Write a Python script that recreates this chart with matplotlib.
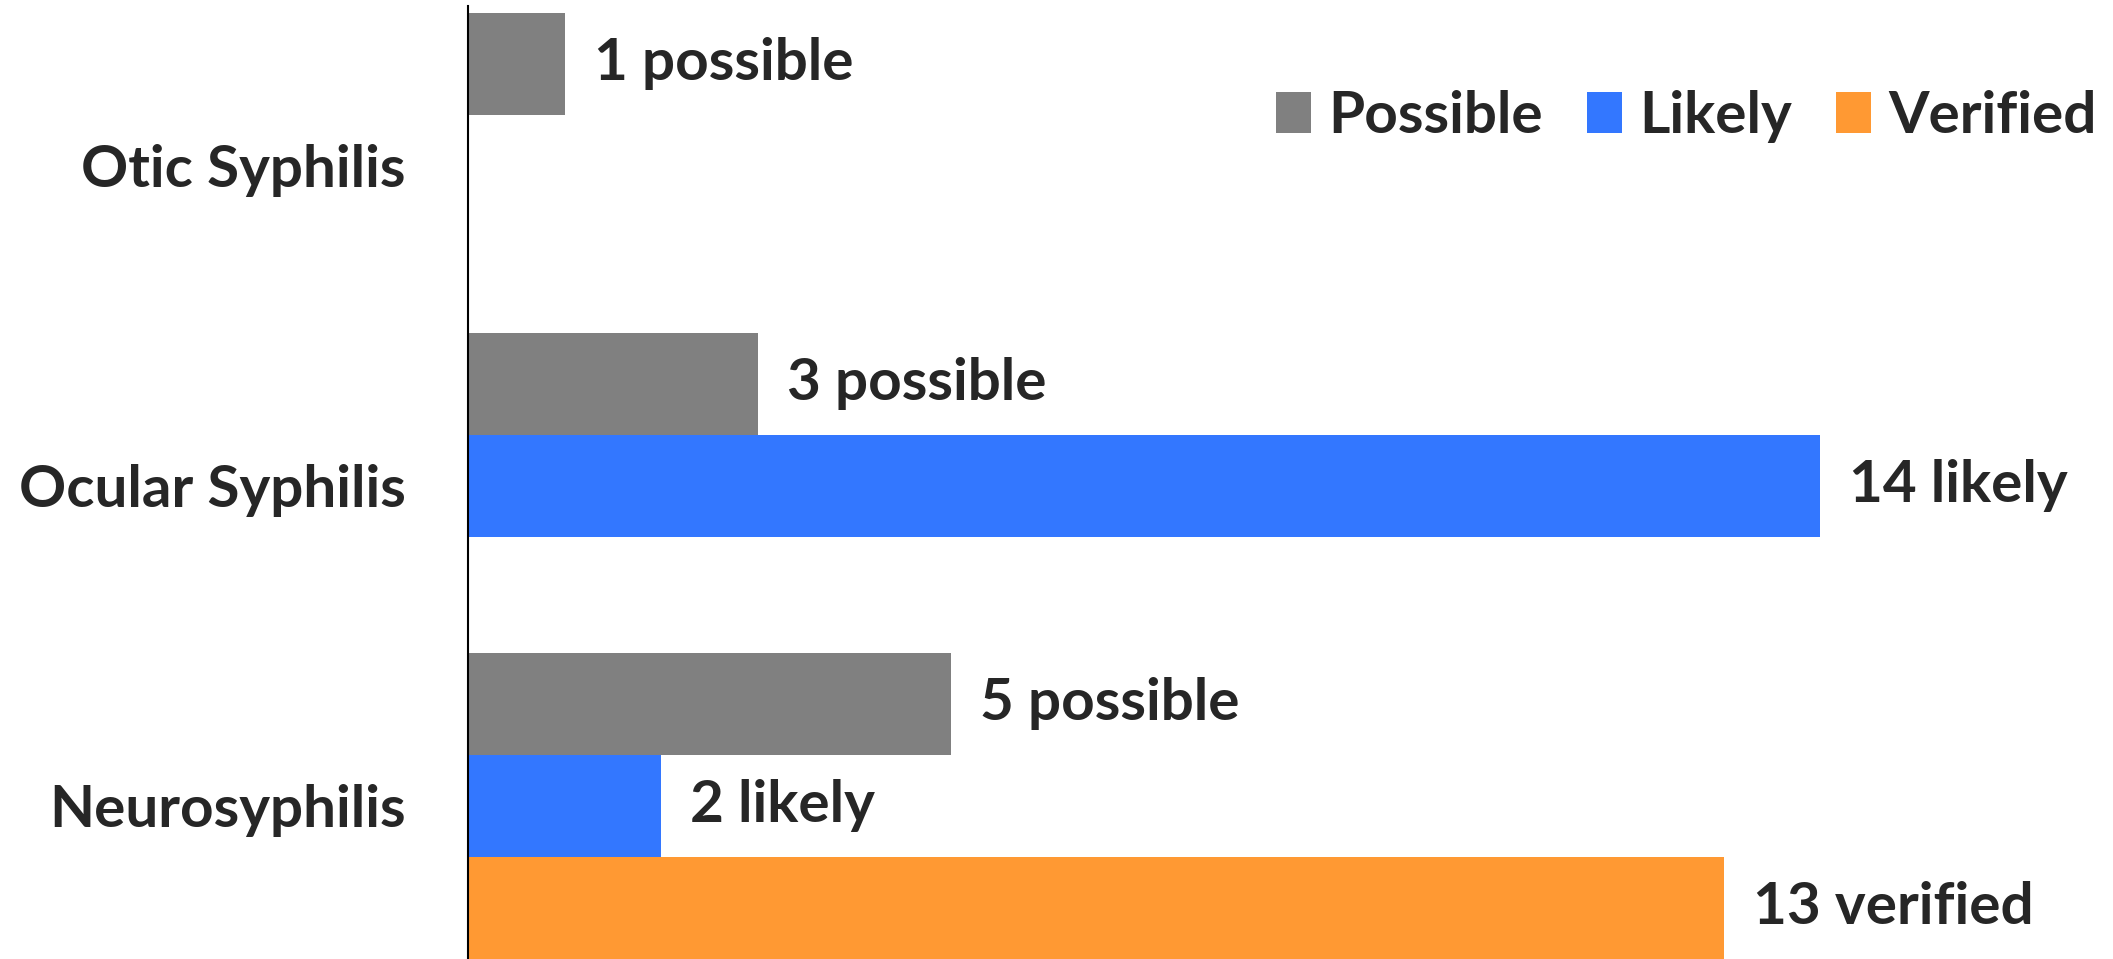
import matplotlib.pyplot as plt
import numpy as np

categories = ['Neurosyphilis', 'Ocular Syphilis', 'Otic Syphilis']
possible = [5, 3, 1]
likely = [2, 14, 0]
verified = [13, 0, 0]

series = [
    ('Possible', 'possible', possible, '#808080'),
    ('Likely', 'likely', likely, '#3377FF'),
    ('Verified', 'verified', verified, '#FF9933'),
]

plt.rcParams['font.family'] = ['Lato', 'DejaVu Sans']
plt.rcParams['font.weight'] = 'bold'
text_color = '#262626'
fs = 42

fig = plt.figure(figsize=(21.13, 9.59), dpi=100)
ax = fig.add_axes([468 / 2113, 0, 1 - 468 / 2113, 953 / 959])

y = np.arange(len(categories))
h = 0.319
offsets = [h, 0, -h]

for (name, word, vals, color), off in zip(series, offsets):
    bars = ax.barh(y + off, vals, height=h, color=color, label=name)
    for b, v in zip(bars, vals):
        if v > 0:
            ax.text(b.get_width() + 0.3, b.get_y() + b.get_height() / 2,
                    f'{v} {word}', va='center', ha='left',
                    fontsize=fs, fontweight='bold', color=text_color)

ax.set_ylim(-1.5 * h, 2.5)
ax.set_xlim(0, 17.03)
ax.set_yticks(y)
ax.set_yticklabels(categories, fontsize=fs, fontweight='bold', color=text_color)
ax.tick_params(axis='y', length=0, pad=45)
ax.set_xticks([])
for s in ['top', 'right', 'bottom']:
    ax.spines[s].set_visible(False)
ax.spines['left'].set_linewidth(1.5)

ax.legend(loc='upper right', bbox_to_anchor=(1.022, 0.967), ncol=3, frameon=False,
          handlelength=0.6, handleheight=0.7, handletextpad=0.3,
          columnspacing=0.75, labelcolor=text_color,
          prop={'weight': 'bold', 'size': fs})

fig.savefig('out.png', dpi=100)
